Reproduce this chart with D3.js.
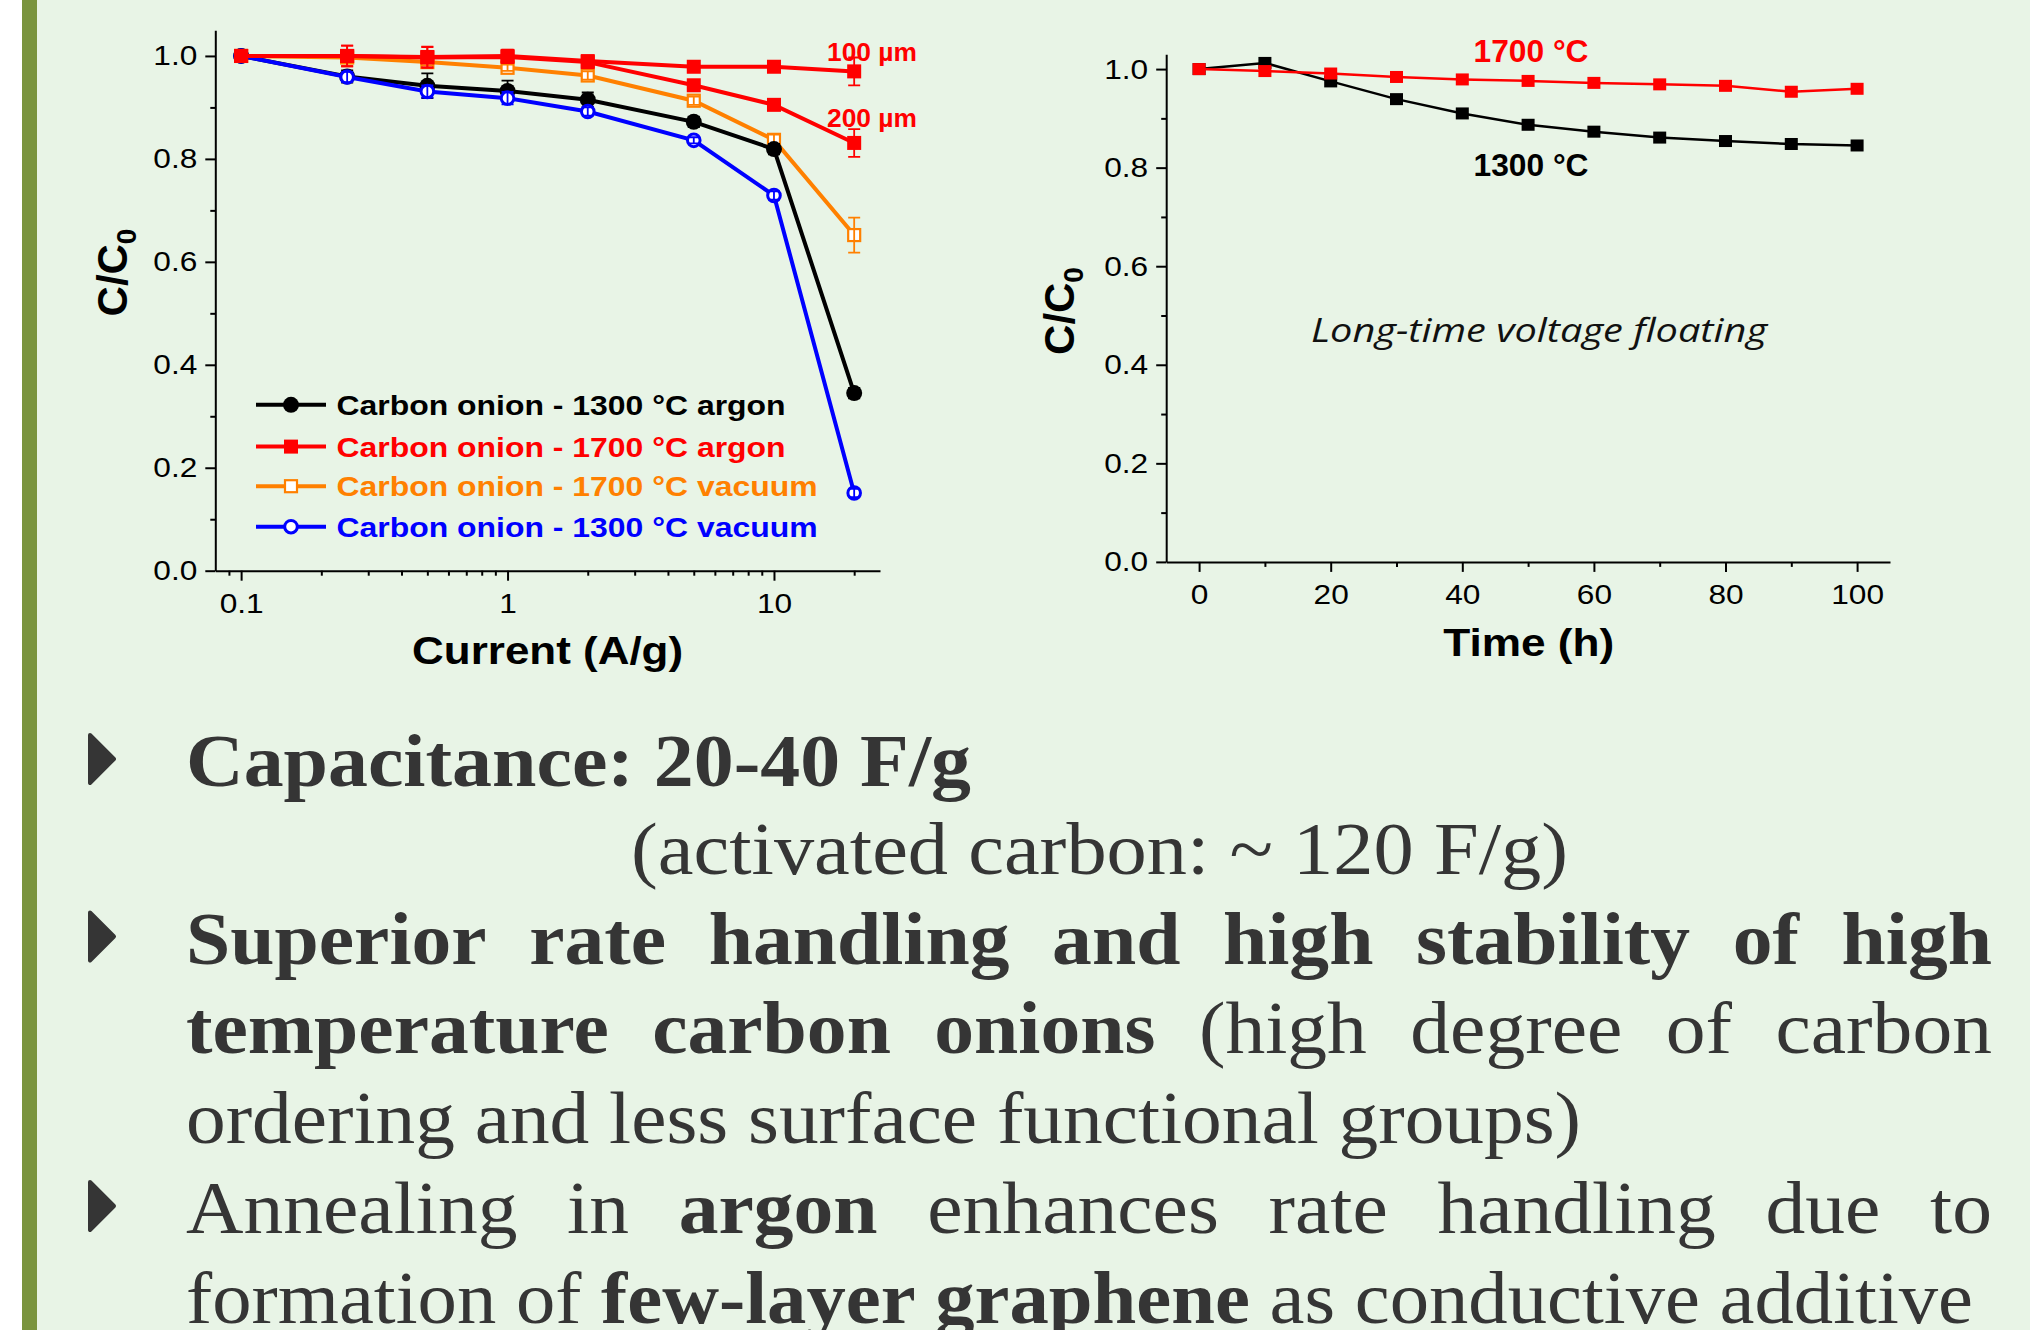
<!DOCTYPE html>
<html>
<head>
<meta charset="utf-8">
<script src="https://cdn.jsdelivr.net/npm/d3@7"></script>
<style>
html, body { margin: 0; padding: 0; background: #fff; }
svg text { font-family: "Liberation Sans", Arial, sans-serif; }
svg text.serif { font-family: "Liberation Serif", "DejaVu Serif", serif; }
</style>
</head>
<body>
<svg id="slide" width="2030" height="1330"></svg>
<script>
// ---- rate handling (left panel) ----
var currents = [0.1, 0.25, 0.5, 1, 2, 5, 10, 20];
var argon1300 = [1.0, 0.960, 0.942, 0.932, 0.915, 0.872, 0.819, 0.345];
var argon1300Err = [0.01, 0.012, 0.024, 0.02, 0.014, 0.01, 0.01, 0.01];
var argon1700thin = [1.0, 1.0, 0.998, 1.0, 0.990, 0.979, 0.979, 0.970];   // 100 µm
var argon1700thick = [1.0, 1.0, 0.997, 0.998, 0.988, 0.943, 0.905, 0.831]; // 200 µm
var argon1700Err = [0.01, 0.02, 0.02, 0.012, 0.01, 0.01, 0.01, 0.027];
var vacuum1700 = [1.0, 0.997, 0.988, 0.977, 0.962, 0.913, 0.837, 0.652];
var vacuum1700Err = [0.005, 0.005, 0.006, 0.006, 0.008, 0.008, 0.01, 0.034];
var vacuum1300 = [1.0, 0.959, 0.931, 0.918, 0.892, 0.836, 0.729, 0.151];
var vacuum1300Err = [0.008, 0.01, 0.012, 0.012, 0.008, 0.006, 0.008, 0.008];
var legendLabels = ['Carbon onion - 1300 °C argon', 'Carbon onion - 1700 °C argon',
                    'Carbon onion - 1700 °C vacuum', 'Carbon onion - 1300 °C vacuum'];
var thicknessLabels = ['100 µm', '200 µm'];

// ---- voltage floating (right panel) ----
var hours = [0, 10, 20, 30, 40, 50, 60, 70, 80, 90, 100];
var float1300 = [1.0, 1.0125, 0.975, 0.939, 0.910, 0.887, 0.873, 0.861, 0.854, 0.848, 0.845];
var float1700 = [1.0, 0.996, 0.991, 0.984, 0.979, 0.976, 0.972, 0.969, 0.966, 0.954, 0.960];
var floatLabels = ['1700 °C', '1300 °C'];

// ---- ticks ----
var ratioTicks = [0, 0.2, 0.4, 0.6, 0.8, 1.0];
var ratioMinor = [0.1, 0.3, 0.5, 0.7, 0.9];
var currentTicks = [0.1, 1, 10];
var currentMinor = [0.09, 0.2, 0.3, 0.4, 0.5, 0.6, 0.7, 0.8, 0.9, 2, 3, 4, 5, 6, 7, 8, 9, 20];
var hourTicks = [0, 20, 40, 60, 80, 100];
var hourMinor = [10, 30, 50, 70, 90];

// ---- slide text ----
var slideLines = [
  [['Capacitance: 20-40 F/g', 1]],
  [['(activated carbon: ~ 120 F/g)', 0]],
  [['Superior rate handling and high stability of high', 1]],
  [['temperature carbon onions', 1], ['(high degree of carbon', 0]],
  [['ordering and less surface functional groups)', 0]],
  [['Annealing in', 0], ['argon', 1], ['enhances rate handling due to', 0]],
  [['formation of', 0], ['few-layer graphene', 1], ['as conductive additive', 0]]
];

var SANS = '"Liberation Sans", Arial, sans-serif';
var svg = d3.select('#slide');

// widen text horizontally (the figure is slightly stretched)
function stretch(sel, k) {
  sel.each(function() {
    var w = this.getComputedTextLength();
    d3.select(this).attr('textLength', w * k).attr('lengthAdjust', 'spacingAndGlyphs');
  });
}
function fitTo(sel, w) {
  sel.attr('textLength', w).attr('lengthAdjust', 'spacingAndGlyphs');
}

// background
svg.append('rect').attr('width', 2030).attr('height', 1330).attr('fill', '#e8f4e6');
svg.append('rect').attr('width', 22).attr('height', 1330).attr('fill', '#ffffff');
svg.append('rect').attr('x', 22).attr('width', 15).attr('height', 1330).attr('fill', '#7a943e');

function styleAxis(g) {
  g.attr('font-size', 28).attr('font-family', SANS);
  g.select('.domain').attr('stroke', '#000').attr('stroke-width', 2);
  g.selectAll('.tick line').attr('stroke', '#000').attr('stroke-width', 2);
  g.selectAll('.tick text').attr('fill', '#000');
  stretch(g.selectAll('.tick text'), 1.13);
}
function minorAxis(g) {
  g.select('.domain').remove();
  g.selectAll('.tick line').attr('stroke', '#000').attr('stroke-width', 2);
}

function marker(g, type, cx, cy, color) {
  if (type === 'circle') {
    g.append('circle').attr('cx', cx).attr('cy', cy).attr('r', 8).attr('fill', color);
  } else if (type === 'square') {
    g.append('rect').attr('x', cx - 7).attr('y', cy - 7).attr('width', 14).attr('height', 14).attr('fill', color);
  } else if (type === 'osquare') {
    g.append('rect').attr('x', cx - 6).attr('y', cy - 6).attr('width', 12).attr('height', 12)
      .attr('fill', '#fff').attr('stroke', color).attr('stroke-width', 2.2);
  } else if (type === 'ocircle') {
    g.append('circle').attr('cx', cx).attr('cy', cy).attr('r', 6.3)
      .attr('fill', '#fff').attr('stroke', color).attr('stroke-width', 3);
  } else if (type === 'smallsquare') {
    g.append('rect').attr('x', cx - 6.5).attr('y', cy - 6).attr('width', 13).attr('height', 12).attr('fill', color);
  }
}

function yTitle(x, y) {
  var t = svg.append('text')
    .attr('transform', 'translate(' + x + ',' + y + ') rotate(-90)')
    .attr('text-anchor', 'middle')
    .attr('font-size', 42).attr('font-weight', 'bold').attr('fill', '#000');
  t.append('tspan').text('C/C');
  t.append('tspan').attr('font-size', 28).attr('dy', 9).text('0');
}

// ================= left chart =================
var xL = d3.scaleLog().domain([0.08, 25]).range([215.3, 880]);
var yL = d3.scaleLinear().domain([0, 1.05]).range([570.7, 30.2]);

svg.append('g').attr('transform', 'translate(215.3,0)')
  .call(d3.axisLeft(yL).tickValues(ratioMinor).tickSize(5).tickFormat('')).call(minorAxis);
svg.append('g').attr('transform', 'translate(0,570.7)')
  .call(d3.axisBottom(xL).tickValues(currentMinor).tickSize(5).tickFormat('')).call(minorAxis);
svg.append('g').attr('transform', 'translate(215.3,0)')
  .call(d3.axisLeft(yL).tickValues(ratioTicks).tickFormat(d3.format('.1f'))
    .tickSize(10).tickPadding(8).tickSizeOuter(0))
  .call(styleAxis);
svg.append('g').attr('transform', 'translate(0,570.7)')
  .call(d3.axisBottom(xL).tickValues(currentTicks).tickFormat(d3.format('~g'))
    .tickSize(10).tickPadding(12).tickSizeOuter(0))
  .call(styleAxis);

var leftSeries = [
  {vals: vacuum1700, err: vacuum1700Err, color: '#ff8000', type: 'osquare'},
  {vals: argon1300, err: argon1300Err, color: '#000000', type: 'circle'},
  {vals: vacuum1300, err: vacuum1300Err, color: '#0000ff', type: 'ocircle'},
  {vals: argon1700thick, err: argon1700Err, color: '#ff0000', type: 'square'},
  {vals: argon1700thin, err: argon1700Err, color: '#ff0000', type: 'square'}
];
var lineL = d3.line().x(function(d) { return xL(d[0]); }).y(function(d) { return yL(d[1]); });

leftSeries.forEach(function(s) {
  var g = svg.append('g');
  var pts = currents.map(function(c, i) { return [c, s.vals[i], s.err[i]]; });
  g.append('path').attr('d', lineL(pts)).attr('fill', 'none')
    .attr('stroke', s.color).attr('stroke-width', 4);
  var open = s.type.charAt(0) === 'o';
  function bars() {
    pts.forEach(function(p) {
      var cx = xL(p[0]), y1 = yL(p[1] + p[2]), y2 = yL(p[1] - p[2]);
      g.append('path')
        .attr('d', 'M' + cx + ',' + y1 + 'V' + y2 + 'M' + (cx - 6) + ',' + y1 + 'H' + (cx + 6) +
                   'M' + (cx - 6) + ',' + y2 + 'H' + (cx + 6))
        .attr('stroke', s.color).attr('stroke-width', 1.8).attr('fill', 'none');
    });
  }
  if (!open) bars();
  pts.forEach(function(p) { marker(g, s.type, xL(p[0]), yL(p[1]), s.color); });
  if (open) bars();
});

// thickness labels
svg.selectAll('.thick').data(thicknessLabels).enter().append('text')
  .attr('x', 827).attr('y', function(d, i) { return i ? 126.7 : 60.7; })
  .attr('font-size', 25).attr('font-weight', 'bold').attr('fill', '#ff0000')
  .text(function(d) { return d; })
  .call(fitTo, 90);

// legend
var legendColors = ['#000000', '#ff0000', '#ff8000', '#0000ff'];
var legendTypes = ['circle', 'square', 'osquare', 'ocircle'];
var legendRows = [404.8, 446.6, 486.2, 526.7];
legendLabels.forEach(function(lab, i) {
  var g = svg.append('g');
  var y = legendRows[i];
  g.append('line').attr('x1', 256).attr('x2', 326).attr('y1', y).attr('y2', y)
    .attr('stroke', legendColors[i]).attr('stroke-width', 4);
  marker(g, legendTypes[i], 291, y, legendColors[i]);
  g.append('text').attr('x', 336.5).attr('y', y + 10)
    .attr('font-size', 28).attr('font-weight', 'bold').attr('fill', legendColors[i])
    .text(lab).call(stretch, 1.14);
});

yTitle(127, 272.5);
svg.append('text').attr('x', 547.6).attr('y', 664).attr('text-anchor', 'middle')
  .attr('font-size', 39).attr('font-weight', 'bold').attr('fill', '#000')
  .text('Current (A/g)').call(fitTo, 271);

// ================= right chart =================
var xR = d3.scaleLinear().domain([-5, 105]).range([1166.2, 1890]);
var yR = d3.scaleLinear().domain([0, 1.03]).range([561.9, 54.3]);

svg.append('g').attr('transform', 'translate(1166.2,0)')
  .call(d3.axisLeft(yR).tickValues(ratioMinor).tickSize(5).tickFormat('')).call(minorAxis);
svg.append('g').attr('transform', 'translate(0,561.9)')
  .call(d3.axisBottom(xR).tickValues(hourMinor).tickSize(5).tickFormat('')).call(minorAxis);
svg.append('g').attr('transform', 'translate(1166.2,0)')
  .call(d3.axisLeft(yR).tickValues(ratioTicks).tickFormat(d3.format('.1f'))
    .tickSize(10).tickPadding(8).tickSizeOuter(0))
  .call(styleAxis);
svg.append('g').attr('transform', 'translate(0,561.9)')
  .call(d3.axisBottom(xR).tickValues(hourTicks).tickFormat(d3.format('d'))
    .tickSize(10).tickPadding(12).tickSizeOuter(0))
  .call(styleAxis);

var lineR = d3.line().x(function(d) { return xR(d[0]); }).y(function(d) { return yR(d[1]); });
[{vals: float1300, color: '#000000'}, {vals: float1700, color: '#ff0000'}].forEach(function(s) {
  var g = svg.append('g');
  var pts = hours.map(function(h, i) { return [h, s.vals[i]]; });
  g.append('path').attr('d', lineR(pts)).attr('fill', 'none')
    .attr('stroke', s.color).attr('stroke-width', 2.5);
  pts.forEach(function(p) { marker(g, 'smallsquare', xR(p[0]), yR(p[1]), s.color); });
});

svg.selectAll('.flab').data(floatLabels).enter().append('text')
  .attr('x', 1531).attr('y', function(d, i) { return i ? 176 : 61.5; })
  .attr('text-anchor', 'middle').attr('font-size', 31).attr('font-weight', 'bold')
  .attr('fill', function(d, i) { return i ? '#000' : '#ff0000'; })
  .text(function(d) { return d; })
  .call(fitTo, 115);

svg.append('text').attr('x', 1539).attr('y', 342).attr('text-anchor', 'middle')
  .style('font-family', '"Open Sans", "Noto Sans", sans-serif').attr('font-style', 'italic')
  .attr('font-size', 33).attr('fill', '#111')
  .text('Long-time voltage floating').call(fitTo, 456);

yTitle(1074, 311);
svg.append('text').attr('x', 1528.8).attr('y', 656).attr('text-anchor', 'middle')
  .attr('font-size', 39).attr('font-weight', 'bold').attr('fill', '#000')
  .text('Time (h)').call(fitTo, 171);

// ================= bullet text =================
var lineLayout = [
  {x0: 186, x1: 971, base: 786, bullet: true, justify: false},
  {x0: 631, x1: 1568, base: 874, bullet: false, justify: false},
  {x0: 186, x1: 1992, base: 963.5, bullet: true, justify: true},
  {x0: 186, x1: 1992, base: 1053, bullet: false, justify: true},
  {x0: 186, x1: 1581, base: 1143, bullet: false, justify: false},
  {x0: 186, x1: 1992, base: 1233, bullet: true, justify: true},
  {x0: 186, x1: 1973, base: 1322.7, bullet: false, justify: false}
];
var FS = 75;
var textG = svg.append('g').attr('fill', '#353535').attr('font-size', FS);
var space = FS * 0.25;

var built = lineLayout.map(function(L, i) {
  var words = [];
  slideLines[i].forEach(function(p) {
    p[0].split(' ').forEach(function(w) { words.push({t: w, b: p[1]}); });
  });
  words.forEach(function(w) {
    w.node = textG.append('text').attr('class', 'serif').attr('y', L.base)
      .attr('font-weight', w.b ? 'bold' : 'normal').text(w.t).node();
    w.w = w.node.getComputedTextLength();
  });
  var sum = d3.sum(words, function(w) { return w.w; });
  return {L: L, words: words, sum: sum, k: (L.x1 - L.x0) / (sum + space * (words.length - 1))};
});
var kAvg = d3.mean(built.filter(function(b) { return !b.L.justify; }), function(b) { return b.k; });

built.forEach(function(b) {
  var L = b.L, n = b.words.length;
  var k = L.justify ? kAvg : b.k;
  var gap = L.justify ? (L.x1 - L.x0 - k * b.sum) / (n - 1) : k * space;
  var x = L.x0;
  b.words.forEach(function(w) {
    d3.select(w.node).attr('x', x).attr('textLength', w.w * k).attr('lengthAdjust', 'spacingAndGlyphs');
    x += w.w * k + gap;
  });
  if (L.bullet) {
    var y = L.base;
    textG.append('path')
      .attr('d', 'M90,' + (y - 51) + 'L114,' + (y - 27) + 'L90,' + (y - 3) + 'Z')
      .attr('fill', '#353535').attr('stroke', '#353535')
      .attr('stroke-width', 4).attr('stroke-linejoin', 'round');
  }
});
</script>
</body>
</html>
